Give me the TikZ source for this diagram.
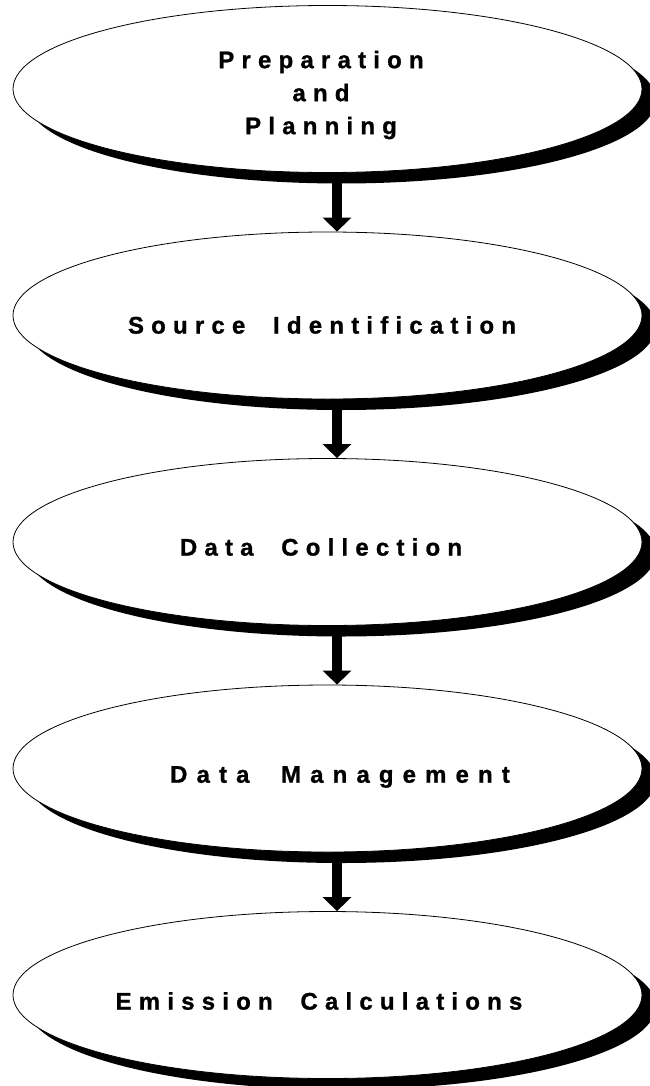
\documentclass[tikz,border=0pt]{standalone}
\usepackage{fontspec}
\newfontfamily\lblfont{Liberation Sans Bold}[LetterSpace=30,WordSpace=2,FakeBold=1]
\newfontfamily\lblwidefont{Liberation Sans Bold}[LetterSpace=38,WordSpace=2,FakeBold=1]
\usetikzlibrary{shapes.geometric,shadows,arrows.meta}
\tikzset{
  stage/.style={ellipse, draw=black, line width=0.8pt, fill=white,
    minimum width=629pt, minimum height=167pt, inner sep=0pt,
    drop shadow={shadow xshift=14pt, shadow yshift=-11pt, opacity=1, fill=black}},
  lbl/.style={font=\fontsize{24}{33}\lblfont\selectfont, align=center, inner sep=0pt},
  lblwide/.style={font=\fontsize{24}{33}\lblwidefont\selectfont, align=center, inner sep=0pt},
  flow/.style={line width=10pt, -{Triangle[width=28pt,length=14pt]}}
}
\begin{document}
\begin{tikzpicture}[x=1pt,y=-1pt]
\useasboundingbox (0,0) rectangle (649,1086);
\node[stage] (e1) at (327.5,89) {};
\node[stage] (e2) at (327.5,315.5) {};
\node[stage] (e3) at (327.5,542) {};
\node[stage] (e4) at (327.5,768.5) {};
\node[stage] (e5) at (327.5,995) {};
\node[lbl] (t1) at (321,95) {Preparation\\and\\Planning};
\node[lbl] (t2) at (322,325) {Source Identification};
\node[lbl] (t3) at (321,547) {Data Collection};
\node[lblwide] (t4) at (340,777) {Data Management};
\node[lbl] (t5) at (319,1001) {Emission Calculations};
\draw[flow] ([xshift=9.5pt]e1.south) -- ([xshift=9.5pt]e2.north);
\draw[flow] ([xshift=9.5pt]e2.south) -- ([xshift=9.5pt]e3.north);
\draw[flow] ([xshift=9.5pt]e3.south) -- ([xshift=9.5pt]e4.north);
\draw[flow] ([xshift=9.5pt]e4.south) -- ([xshift=9.5pt]e5.north);
\end{tikzpicture}
\end{document}
